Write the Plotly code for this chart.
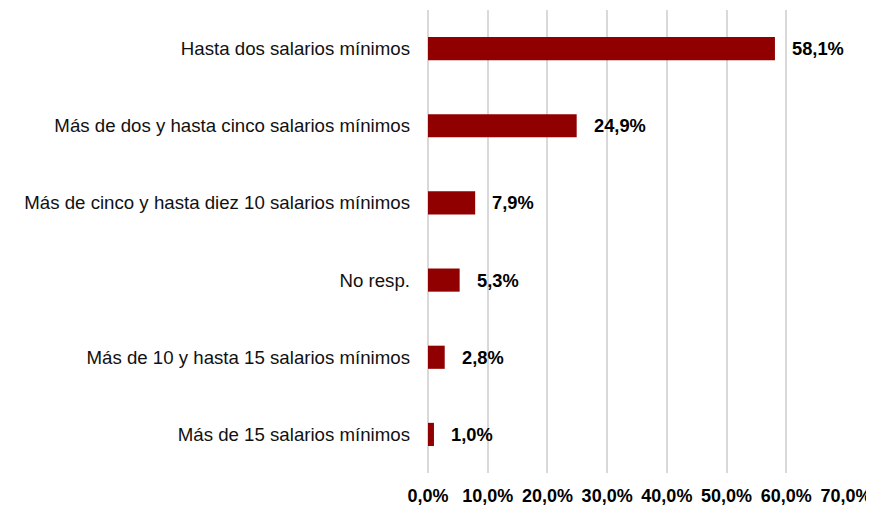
import plotly.graph_objects as go

categories = [
    "Hasta dos salarios mínimos",
    "Más de dos y hasta cinco salarios mínimos",
    "Más de cinco y hasta diez 10 salarios mínimos",
    "No resp.",
    "Más de 10 y hasta 15 salarios mínimos",
    "Más de 15 salarios mínimos",
]
values = [58.1, 24.9, 7.9, 5.3, 2.8, 1.0]
tick_vals = [0, 10, 20, 30, 40, 50, 60, 70]
tick_text = ["0,0%", "10,0%", "20,0%", "30,0%", "40,0%", "50,0%", "60,0%", "70,0%"]

FONT = "Liberation Sans, Arial, sans-serif"

fig = go.Figure()
fig.add_trace(go.Bar(
    x=values, y=categories, orientation="h",
    marker=dict(color="#900000", line=dict(width=0)),
    width=0.3, hoverinfo="skip",
))

for v, c in zip(values, categories):
    fig.add_annotation(
        x=v, y=c, xref="x", yref="y",
        text="<b>" + f"{v:.1f}".replace(".", ",") + "%</b>",
        showarrow=False, xanchor="left", xshift=15,
        font=dict(family=FONT, size=18.3, color="#000000"),
    )

# page has an 8px body margin, so the figure is offset by 8px
L, R, T, B = 420, 26, 2, 32

fig.update_layout(
    width=866, height=500,
    margin=dict(l=L, r=R, t=T, b=B),
    paper_bgcolor="white", plot_bgcolor="white",
    showlegend=False,
    font=dict(family=FONT, size=18.67, color="#111111"),
    xaxis=dict(
        range=[0, 70], tickvals=tick_vals, ticktext=tick_text,
        showgrid=True, gridcolor="#D9D9D9", gridwidth=2,
        zeroline=True, zerolinecolor="#D9D9D9", zerolinewidth=2,
        showline=False, ticks="",
        tickfont=dict(family=FONT, size=18.0, color="#000000", weight="bold"),
        ticklabelstandoff=10, fixedrange=True,
    ),
    yaxis=dict(
        categoryorder="array", categoryarray=categories, autorange="reversed",
        showgrid=False, zeroline=False, showline=False, ticks="",
        tickfont=dict(family=FONT, size=18.67, color="#111111"),
        ticklabelstandoff=17, fixedrange=True,
    ),
)

fig.write_html("out.html", config={"displayModeBar": False})
